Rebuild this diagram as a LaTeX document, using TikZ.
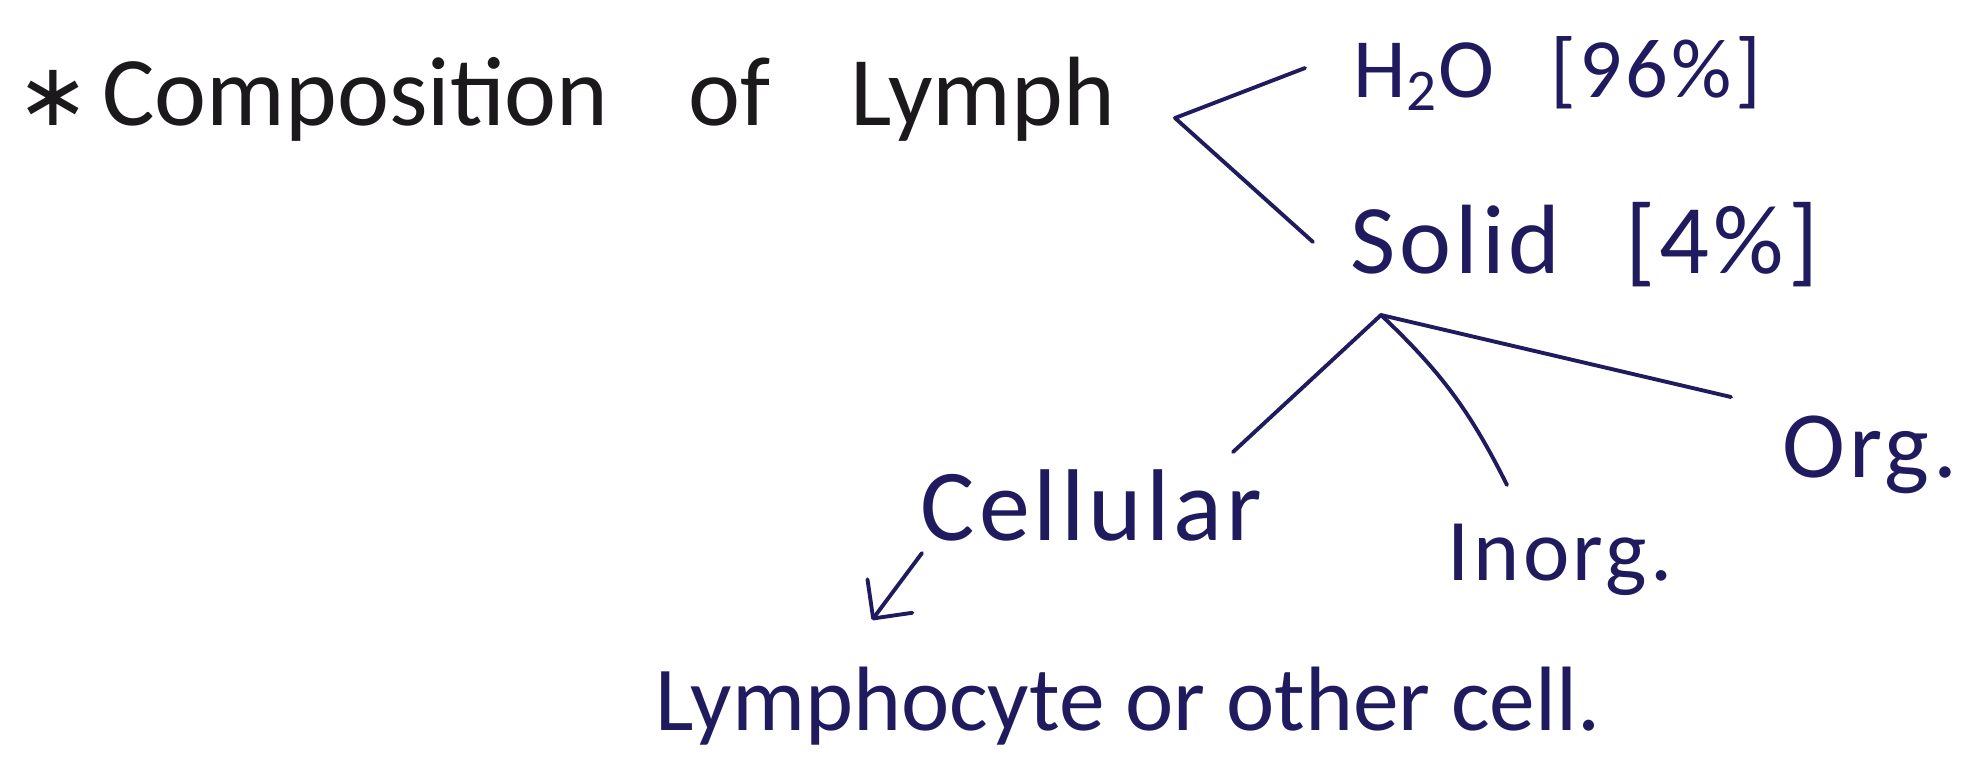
\documentclass[tikz,border=0pt]{standalone}
\usepackage{fontspec}
\setmainfont{Carlito}
\newfontfamily\titleface[WordSpace=3.6]{Carlito}
\newfontfamily\looseface[LetterSpace=4,WordSpace=2.5]{Carlito}
\newfontfamily\starface{DejaVu Sans}
\usetikzlibrary{arrows.meta,calc}
\definecolor{lyInk}{HTML}{1C191C}
\definecolor{lyBlue}{HTML}{1F1B5E}
\tikzset{
  lbl/.style={inner sep=0pt, anchor=base west, text=lyBlue},
  branch/.style={draw=lyBlue, line width=1.1pt, line cap=round, line join=round},
  arr/.style={branch, -{Straight Barb[length=2.8mm,width=5.6mm,line width=1.1pt,round]}},
}
\begin{document}
\begin{tikzpicture}[x=0.01cm,y=-0.01cm]
  \fill[white] (0,0) rectangle (1969,763);
  \useasboundingbox (0,0) rectangle (1969,763);
  % heading
  \node[lbl, text=lyInk, font=\titleface\fontsize{28}{30}\selectfont] (title) at (16,125) {{\starface\fontsize{25}{25}\selectfont ∗}\hspace{0.12cm}Composition of Lymph};
  % water and solids
  \node[lbl, font=\looseface\fontsize{24}{26}\selectfont] (h2o) at (1353,97) {H\textsubscript{2}O [96\%]};
  \node[lbl, font=\looseface\fontsize{28}{30}\selectfont] (solid) at (1350,273) {Solid [4\%]};
  % parts of the solids
  \node[lbl, font=\looseface\fontsize{29}{31}\selectfont] (cellular) at (920,540) {Cellular};
  \node[lbl, font=\looseface\fontsize{25}{27}\selectfont] (inorg) at (1447,580) {Inorg.};
  \node[lbl, font=\looseface\fontsize{27}{29}\selectfont] (org) at (1782,477) {Org.};
  \node[lbl, font=\fontsize{26}{28}\selectfont] (lympho) at (655,730) {Lymphocyte or other cell.};
  % ends of the strokes
  \coordinate (fork) at (1175,118);
  \coordinate (h2oEnd) at ($(h2o.base west)+(-48,-29)$);
  \coordinate (solidEnd) at ($(solid.base west)+(-37,-31)$);
  \coordinate (apex) at ($(solid.base west)+(31,42)$);
  \coordinate (cellEnd) at ($(cellular.base west)+(313,-88)$);
  \coordinate (inorgEnd) at ($(inorg.base west)+(60,-95)$);
  \coordinate (orgEnd) at ($(org.base west)+(-51,-80)$);
  \coordinate (arrTail) at ($(cellular.base west)+(2,13)$);
  \coordinate (arrTip) at ($(lympho.base west)+(217,-110)$);
  \draw[branch] (h2oEnd) -- (fork) -- (solidEnd);
  \draw[branch] (cellEnd) -- (apex) -- (orgEnd);
  \draw[branch] (apex) to[bend left=10] (inorgEnd);
  \draw[arr] (arrTail) -- (arrTip);
\end{tikzpicture}
\end{document}
